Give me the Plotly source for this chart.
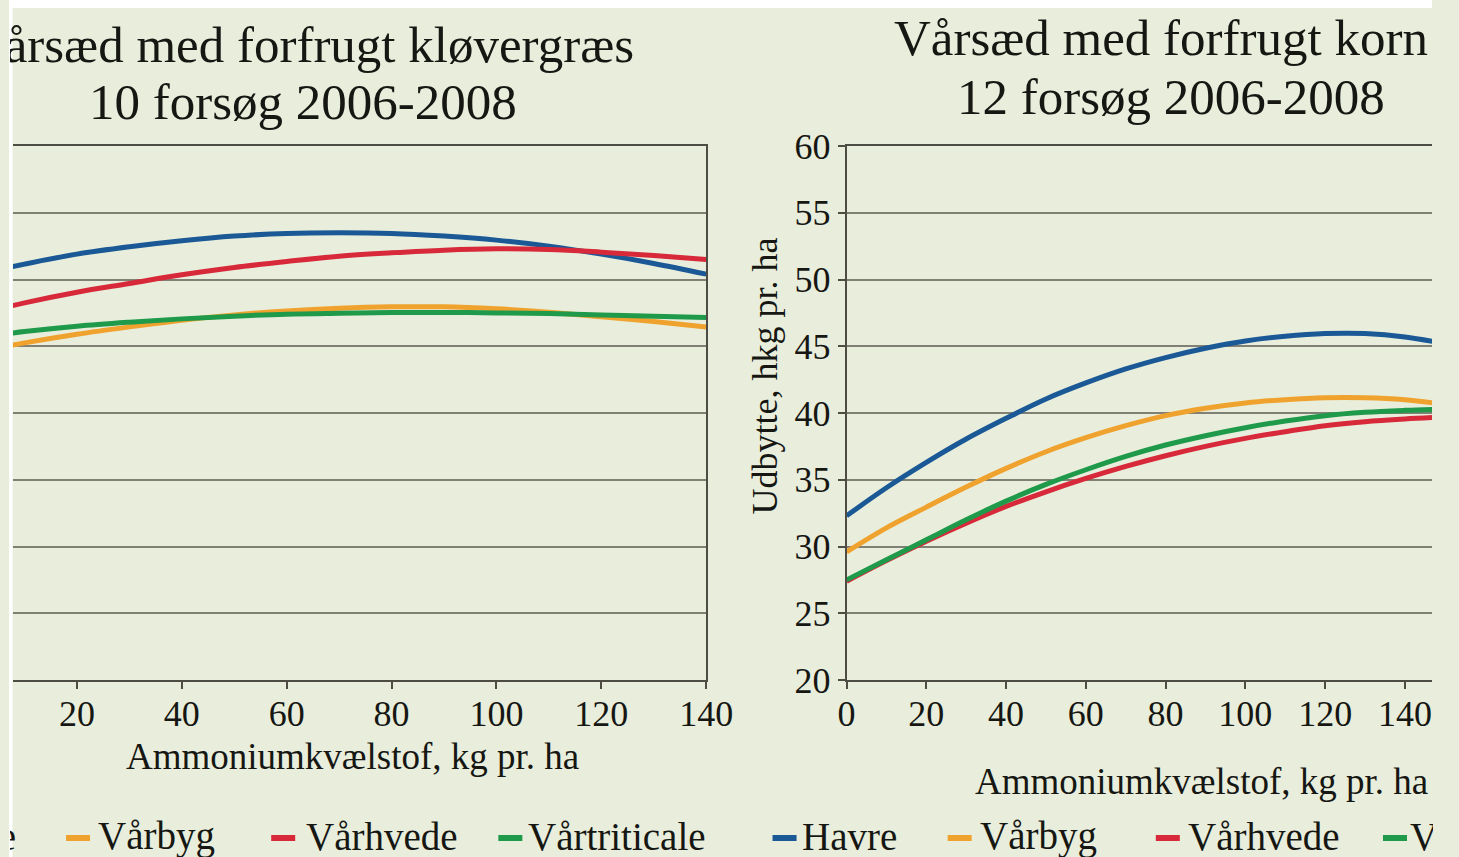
import plotly.graph_objects as go

# ---------------- data ----------------
n_left = [0, 10, 20, 30, 40, 50, 60, 70, 80, 90, 100, 110, 120, 130, 140]
n_right = [0, 10, 20, 30, 40, 50, 60, 70, 80, 90, 100, 110, 120, 130, 140, 150]

series_names = ["Havre", "Vårbyg", "Vårhvede", "Vårtriticale"]
series_colors = ["#1b5896", "#f0a22e", "#d8293b", "#1f9a4a"]

# Vårsæd med forfrugt kløvergræs (left)
left_havre = [50.3, 51.15, 51.9, 52.45, 52.9, 53.25, 53.45, 53.5, 53.45, 53.25, 52.95, 52.5, 51.9, 51.2, 50.4]
left_varbyg = [44.5, 45.25, 45.9, 46.45, 46.95, 47.35, 47.65, 47.85, 47.95, 47.95, 47.8, 47.55, 47.2, 46.85, 46.45]
left_varhvede = [47.3, 48.25, 49.05, 49.7, 50.35, 50.9, 51.35, 51.75, 52.0, 52.2, 52.3, 52.25, 52.05, 51.8, 51.5]
left_vartriticale = [45.6, 46.1, 46.5, 46.8, 47.05, 47.25, 47.4, 47.47, 47.52, 47.53, 47.5, 47.45, 47.35, 47.25, 47.15]

# Vårsæd med forfrugt korn (right)
right_havre = [32.3, 34.4, 36.3, 38.05, 39.6, 41.05, 42.25, 43.3, 44.15, 44.85, 45.4, 45.75, 45.95, 45.95, 45.7, 45.2]
right_varbyg = [29.6, 31.4, 32.95, 34.45, 35.85, 37.1, 38.15, 39.05, 39.8, 40.35, 40.75, 41.0, 41.15, 41.15, 41.0, 40.65]
right_varhvede = [27.4, 28.95, 30.4, 31.75, 33.0, 34.1, 35.1, 36.0, 36.8, 37.5, 38.1, 38.6, 39.05, 39.35, 39.55, 39.7]
right_vartriticale = [27.5, 29.0, 30.5, 32.0, 33.4, 34.65, 35.75, 36.75, 37.6, 38.3, 38.9, 39.4, 39.8, 40.05, 40.2, 40.3]

x_ticks_left = [20, 40, 60, 80, 100, 120, 140]
x_ticks_right = [0, 20, 40, 60, 80, 100, 120, 140]
y_ticks = [20, 25, 30, 35, 40, 45, 50, 55, 60]

title_left = ["Vårsæd med forfrugt kløvergræs", "10 forsøg 2006-2008"]
title_right = ["Vårsæd med forfrugt korn", "12 forsøg 2006-2008"]
x_title = "Ammoniumkvælstof, kg pr. ha"
y_title = "Udbytte, hkg pr. ha"

# ---------------- layout helpers ----------------
W, H = 1459, 857
TOP, BOT = 146, 680
# the page shows the figure from x=9 with an effective drawing width of ~1422 px
X0, WR = 9.0, 1422.0
FONT = "Liberation Serif, Times New Roman, serif"
BG = "#e8eedb"
GRID = "#808074"
AXIS = "#4d4d44"
TXT = "#161613"


def px(x):
    return (x - X0) / WR


def py(y):
    return (BOT - y) / (BOT - TOP)


fig = go.Figure()

left_sets = [left_havre, left_varbyg, left_varhvede, left_vartriticale]
right_sets = [right_havre, right_varbyg, right_varhvede, right_vartriticale]
for name, col, ys in zip(series_names, series_colors, left_sets):
    fig.add_trace(go.Scatter(x=n_left, y=ys, mode="lines", name=name, xaxis="x", yaxis="y",
                             line=dict(color=col, width=5, shape="spline"), showlegend=False))
for name, col, ys in zip(series_names, series_colors, right_sets):
    fig.add_trace(go.Scatter(x=n_right, y=ys, mode="lines", name=name, xaxis="x2", yaxis="y2",
                             line=dict(color=col, width=5, shape="spline"), showlegend=False))

tickfont = dict(family=FONT, size=36, color=TXT)

fig.update_layout(
    width=W, height=H, autosize=False,
    margin=dict(l=0, r=0, t=TOP, b=H - BOT, pad=0),
    paper_bgcolor=BG, plot_bgcolor=BG,
    font=dict(family=FONT, color=TXT),
    xaxis=dict(domain=[px(13), px(706)], range=[7.8, 140.05], tickvals=x_ticks_left,
               showgrid=False, zeroline=False, showline=True, mirror=True,
               linecolor=AXIS, linewidth=2,
               ticks="outside", ticklen=7, tickwidth=2, tickcolor=AXIS, tickfont=tickfont,
               ticklabelstandoff=-6, anchor="y"),
    yaxis=dict(domain=[0, 1], range=[20, 60], tickvals=y_ticks, side="right",
               showgrid=True, gridcolor=GRID, gridwidth=2, zeroline=False,
               showline=True, linecolor=AXIS, linewidth=2, showticklabels=False, ticks="",
               anchor="x"),
    xaxis2=dict(domain=[px(846), 1], range=[0, 146.8], tickvals=x_ticks_right,
                showgrid=False, zeroline=False, showline=True, mirror=True,
                linecolor=AXIS, linewidth=2,
                ticks="outside", ticklen=7, tickwidth=2, tickcolor=AXIS, tickfont=tickfont,
                ticklabelstandoff=-6, anchor="y2"),
    yaxis2=dict(domain=[0, 1], range=[20, 60], tickvals=y_ticks,
                showgrid=True, gridcolor=GRID, gridwidth=2, zeroline=False,
                showline=True, linecolor=AXIS, linewidth=2,
                ticks="outside", ticklen=7, tickwidth=2, tickcolor=AXIS, tickfont=tickfont,
                anchor="x2"),
)

ann = []
# titles (left line 1 is cut by the page edge: clipped inside a right-aligned box)
ann.append(dict(text=title_left[0], x=px(X0), y=py(45), xanchor="left", width=624,
                align="right", font=dict(size=51)))
ann.append(dict(text=title_left[1], x=px(303), y=py(102), font=dict(size=51)))
ann.append(dict(text=title_right[0], x=px(1160), y=py(38), font=dict(size=51)))
ann.append(dict(text=title_right[1], x=px(1170), y=py(97), font=dict(size=51)))
# axis titles
ann.append(dict(text=x_title, x=px(352), y=py(756), font=dict(size=37)))
ann.append(dict(text=x_title, x=px(1201), y=py(781), font=dict(size=37)))
ann.append(dict(text=y_title, x=px(764), y=py(376), font=dict(size=36), textangle=-90))

# legends (text as annotations, swatches as short thick strokes)
LEG_Y = 838
RIGHT_EDGE = X0 + WR
left_leg = [(-40, 15), (66, 97), (271, 305), (498, 527)]
right_leg = [(772, 800), (947, 978), (1155, 1186), (1382, 1408)]
shapes = []
# white border strips of the scanned page
shapes.append(dict(type="rect", xref="paper", yref="paper", x0=0, x1=1.0,
                   y0=py(0), y1=py(8), fillcolor="white", line_width=0, layer="below"))
shapes.append(dict(type="rect", xref="paper", yref="paper", x0=0, x1=px(12.5),
                   y0=py(0), y1=py(H), fillcolor="white", line_width=0, layer="below"))
for legset in (left_leg, right_leg):
    for (sx, tx), name, col in zip(legset, series_names, series_colors):
        if sx >= X0:
            shapes.append(dict(type="line", xref="paper", yref="paper", x0=px(sx), x1=px(sx + 24),
                               y0=py(LEG_Y), y1=py(LEG_Y), line=dict(color=col, width=6)))
        if legset is left_leg and name == "Havre":
            # only the tail of this label is inside the page
            ann.append(dict(text=name, x=px(X0), y=py(LEG_Y - 2), xanchor="left",
                            width=tx - X0, align="right", font=dict(size=39)))
        elif tx + 60 > RIGHT_EDGE:
            # label runs past the right page edge
            ann.append(dict(text=name, x=px(tx), y=py(LEG_Y - 2), xanchor="left",
                            width=RIGHT_EDGE - tx, align="left", font=dict(size=39)))
        else:
            ann.append(dict(text=name, x=px(tx), y=py(LEG_Y - 2), xanchor="left",
                            font=dict(size=39)))

for a in ann:
    a.setdefault("xanchor", "center")
    a.setdefault("yanchor", "middle")
    a.update(xref="paper", yref="paper", showarrow=False, borderpad=0)
    a["font"] = dict(family=FONT, color=TXT, **a["font"])

fig.update_layout(annotations=ann, shapes=shapes)

post = (
    "document.body.style.margin='0';document.body.style.padding='0';"
    "document.body.style.overflow='hidden';"
    "document.body.style.background='linear-gradient(to right,#ffffff 0px,#ffffff 12px,"
    + BG + " 12px," + BG + " 100%)';"
)

fig.write_html("out.html", include_plotlyjs=True,
               config={"displayModeBar": False, "responsive": False},
               post_script=post)
